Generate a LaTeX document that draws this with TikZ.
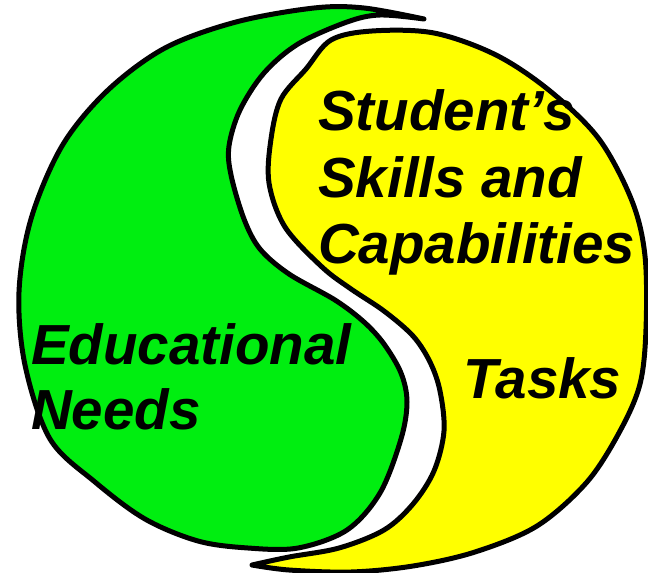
\documentclass[tikz,border=0pt]{standalone}
\usepackage{fontspec}
\setmainfont{Liberation Sans}
\usetikzlibrary{positioning}
\definecolor{needgreen}{RGB}{0,238,16}
\definecolor{taskyellow}{RGB}{255,255,0}
\tikzset{half/.style={draw, line width=5pt, line join=round}}
\tikzset{lbl/.style={anchor=base west, inner sep=0pt, font=\fontsize{56.5}{66}\selectfont\bfseries\itshape}}

\begin{document}
\begin{tikzpicture}[x=1pt, y=-1pt]
\useasboundingbox (0,0) rectangle (648,573);

% educational needs half
\draw[half, fill=needgreen] plot[smooth, tension=0.55] coordinates {
 (424,19) (364,8) (314,8) (236,22) (165,48) (107,91) (62,146) (31,219)
 (19,292) (25,365) (50,439) (95,482) (145,519) (198,541) (248,548)
 (298,548) (347,530) (380,493) (401,439) (407,402) (401,373) (384,344)
 (364,322) (335,300) (289,274) (260,249) (244,219) (231,175) (229,146)
 (240,110) (264,73) (298,44) (347,22) (380,15) (424,19)} -- cycle;

% tasks half
\draw[half, fill=taskyellow] plot[smooth, tension=0.55] coordinates {
 (252,565) (289,570) (351,572) (413,566) (475,552) (537,526) (587,482)
 (620,431) (640,384) (646,329) (645,256) (632,201) (599,139) (550,91)
 (496,55) (434,33) (372,31) (331,40) (306,69) (281,99) (271,139)
 (269,183) (285,227) (322,267) (351,289) (384,311) (413,336) (430,362)
 (440,391) (444,431) (434,471) (413,504) (384,530) (339,548) (289,557)
 (252,565)} -- cycle;

\node[lbl] (student) at (318,130) {Student’s};
\node[lbl] (skills) at (318,197) {Skills and};
\node[lbl] (capab) at (318,263) {Capabilities};
\node[lbl] (educ) at (31,364) {Educational};
\node[lbl] (needs) at (31,429) {Needs};
\node[lbl] (tasks) at (463,398) {Tasks};
\end{tikzpicture}
\end{document}
